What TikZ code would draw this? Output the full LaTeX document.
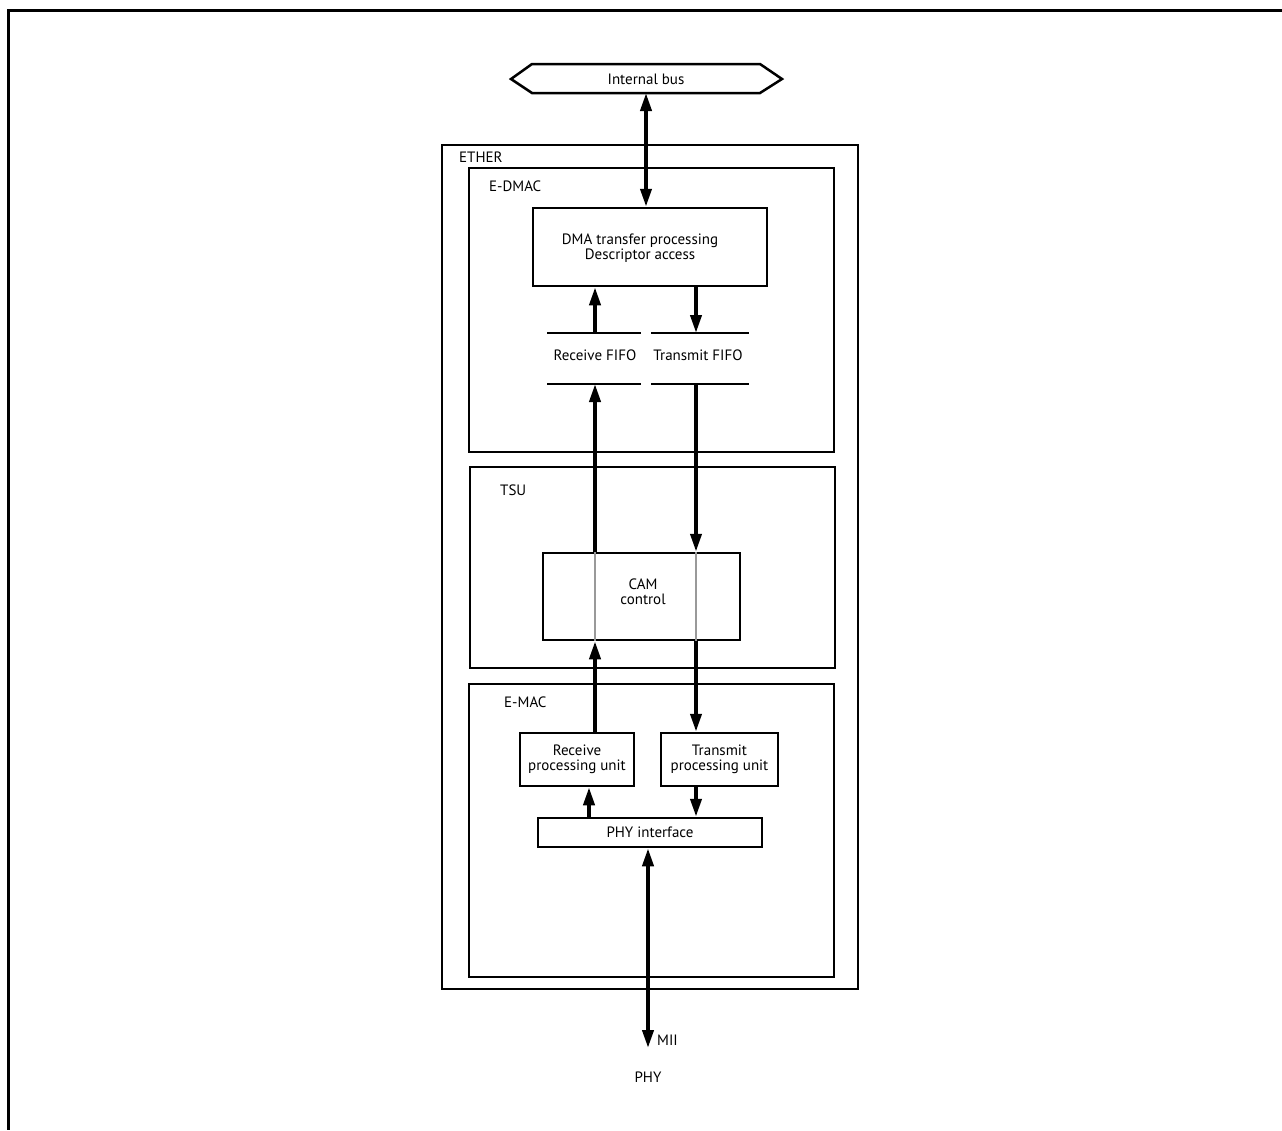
\documentclass[tikz,border=0pt]{standalone}
\usepackage{fontspec}
\setmainfont{PT Sans}
\usetikzlibrary{arrows.meta}
\begin{document}
\begin{tikzpicture}[x=1pt,y=-1pt,
  font=\fontsize{15}{16}\selectfont,
  box/.style={draw,line width=2.5pt,inner sep=0pt},
  lbl/.style={anchor=west,inner sep=0pt},
  txt/.style={inner sep=0pt,align=center,font=\fontsize{15}{15}\selectfont},
  arr/.style={line width=3.8pt,-{Triangle[length=18pt,width=11pt]}},
  darr/.style={line width=3.8pt,{Triangle[length=18pt,width=11pt]}-{Triangle[length=18pt,width=11pt]}},
  fifo/.style={line width=2.5pt},
  grayline/.style={line width=2.2pt,draw=black!40}]
\useasboundingbox (0,0) rectangle (1282,1130);
% outer frame
\draw[line width=3pt] (1282,10) -- (8,10) -- (8,1130);
% internal bus
\draw[line width=2.5pt] (511,79) -- (532,64) -- (760,64) -- (782,79) -- (760,93) -- (532,93) -- cycle;
\node[txt] (bus) at (646,79) {Internal bus};
\coordinate (busS) at (646,93);
% containers
\node[box,minimum width=416pt,minimum height=844pt] (ether) at (650,567) {};
\node[lbl] (etherl) at (459,157) {ETHER};
\node[box,minimum width=365pt,minimum height=284pt] (edmac) at (651.5,310) {};
\node[lbl] (edmacl) at (489,186) {E-DMAC};
\node[box,minimum width=365pt,minimum height=201pt] (tsu) at (652.5,567.5) {};
\node[lbl] (tsul) at (500,490) {TSU};
\node[box,minimum width=365pt,minimum height=293pt] (emac) at (651.5,830.5) {};
\node[lbl] (emacl) at (504,702) {E-MAC};
% inner blocks
\node[box,minimum width=234pt,minimum height=78pt] (dma) at (650,247) {};
\node[txt] (dmat) at (640,248) {DMA transfer processing\\Descriptor access};
\node[box,minimum width=197pt,minimum height=87pt] (cam) at (641.5,596.5) {};
\node[txt] (camt) at (643,592) {CAM\\ control};
\node[box,minimum width=114pt,minimum height=53pt,txt] (rxu) at (577,759.5) {Receive\\processing unit};
\node[box,minimum width=117pt,minimum height=53pt,txt] (txu) at (719.5,759.5) {Transmit\\processing unit};
\node[box,minimum width=224pt,minimum height=29pt,txt] (phyif) at (650,832.5) {PHY interface};
% FIFOs
\coordinate (rfa1) at (547,333); \coordinate (rfa2) at (641,333);
\coordinate (rfb1) at (547,384); \coordinate (rfb2) at (641,384);
\coordinate (tfa1) at (651,333); \coordinate (tfa2) at (749,333);
\coordinate (tfb1) at (651,384); \coordinate (tfb2) at (749,384);
\draw[fifo] (rfa1) -- (rfa2); \draw[fifo] (rfb1) -- (rfb2);
\draw[fifo] (tfa1) -- (tfa2); \draw[fifo] (tfb1) -- (tfb2);
\node[txt] (rfifo) at (595,355) {Receive FIFO};
\node[txt] (tfifo) at (698,355) {Transmit FIFO};
% lane x positions
\coordinate (rx) at (595,0);
\coordinate (tx) at (696,0);
% gray pass-through lines in CAM
\draw[grayline] (rx |- cam.north) -- (rx |- cam.south);
\draw[grayline] (tx |- cam.north) -- (tx |- cam.south);
% arrows
\draw[darr] (busS) -- (busS |- dma.north);
\draw[arr] (rx |- rfa1) -- (rx |- dma.south);
\draw[arr] (tx |- dma.south) -- (tx |- tfa1);
\draw[arr] (rx |- cam.north) -- (rx |- rfb1);
\draw[arr] (tx |- tfb1) -- (tx |- cam.north);
\draw[arr] (rx |- rxu.north) -- (rx |- cam.south);
\draw[arr] (tx |- cam.south) -- (tx |- txu.north);
\coordinate (rx2) at (589,0);
\draw[arr] (rx2 |- phyif.north) -- (rx2 |- rxu.south);
\draw[arr] (tx |- txu.south) -- (tx |- phyif.north);
\coordinate (mii) at (648,1048);
\draw[darr] (mii |- phyif.south) -- (mii);
\node[lbl] (miil) at (657,1040) {MII};
\node[txt] (phy) at (648,1077) {PHY};
\end{tikzpicture}
\end{document}
